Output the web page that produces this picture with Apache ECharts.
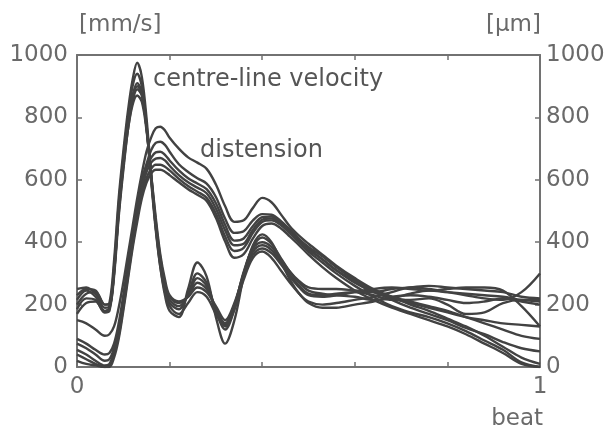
<!DOCTYPE html>
<html>
<head>
<meta charset="utf-8">
<script src="https://cdn.jsdelivr.net/npm/echarts@6/dist/echarts.min.js"></script>
<style>
  html, body { margin: 0; padding: 0; background: #fff; }
  #chart { width: 608px; height: 430px; }
</style>
</head>
<body>
<div id="chart"></div>
<script>
// Fraction of the cardiac beat at which every trace is sampled
const beat = [0, 0.02, 0.04, 0.06, 0.07, 0.08, 0.09, 0.10, 0.11, 0.12, 0.13, 0.14, 0.15, 0.16, 0.17, 0.18, 0.19, 0.20,
  0.22, 0.24, 0.26, 0.28, 0.30, 0.32, 0.34, 0.36, 0.38, 0.40, 0.42, 0.44, 0.46, 0.48, 0.50,
  0.53, 0.56, 0.60, 0.64, 0.68, 0.72, 0.76, 0.80, 0.84, 0.88, 0.92, 0.96, 1.0];

// Centre-line velocity traces [mm/s]
const velocity1 = [200, 235, 240, 200, 205, 340, 540, 690, 820, 920, 975, 930, 800, 620, 450, 320, 230, 180,
  160, 250, 335, 290, 160, 75, 150, 290, 390, 425, 400, 340, 280, 235, 210,
  200, 205, 215, 225, 240, 255, 250, 240, 230, 220, 215, 240, 300];
const velocity2 = [250, 255, 235, 190, 195, 320, 520, 670, 800, 900, 940, 900, 780, 610, 450, 330, 250, 205,
  185, 235, 300, 270, 180, 120, 185, 300, 385, 415, 395, 350, 305, 275, 255,
  250, 250, 245, 240, 250, 255, 260, 255, 250, 245, 240, 225, 220];
const velocity3 = [215, 245, 225, 180, 190, 300, 500, 650, 780, 870, 910, 880, 770, 610, 460, 340, 260, 215,
  195, 230, 285, 260, 185, 135, 195, 305, 380, 400, 385, 345, 305, 270, 245,
  235, 230, 225, 215, 220, 235, 245, 240, 235, 230, 225, 215, 210];
const velocity4 = [185, 220, 215, 175, 180, 290, 480, 630, 760, 850, 890, 870, 770, 620, 470, 350, 270, 225,
  205, 225, 270, 250, 185, 140, 200, 300, 370, 390, 375, 335, 295, 260, 235,
  230, 235, 240, 230, 215, 215, 220, 200, 170, 175, 205, 215, 215];
const velocity5 = [230, 250, 245, 200, 200, 310, 490, 640, 760, 840, 870, 850, 760, 620, 480, 360, 280, 230,
  210, 225, 255, 240, 195, 150, 205, 295, 360, 380, 365, 330, 290, 255, 230,
  225, 230, 240, 250, 255, 250, 245, 250, 255, 255, 245, 195, 130];
const velocity6 = [170, 205, 210, 175, 185, 300, 500, 650, 780, 865, 900, 875, 770, 600, 440, 320, 240, 195,
  170, 205, 240, 225, 170, 130, 185, 280, 350, 370, 350, 310, 270, 235, 205,
  190, 190, 200, 210, 225, 230, 225, 215, 205, 210, 220, 210, 200];

// Wall distension traces [µm]
const distension1 = [150, 140, 120, 100, 105, 130, 190, 270, 360, 450, 540, 620, 690, 735, 765, 770, 758, 735,
  700, 672, 655, 635, 585, 515, 465, 470, 510, 542, 528, 490, 450, 420, 395,
  360, 325, 285, 250, 225, 200, 180, 155, 130, 100, 65, 30, 10];
const distension2 = [90, 75, 55, 40, 45, 75, 140, 230, 330, 430, 520, 600, 650, 695, 718, 722, 712, 690,
  650, 625, 605, 588, 545, 475, 430, 435, 470, 490, 488, 468, 440, 410, 385,
  355, 320, 280, 245, 215, 190, 170, 150, 125, 105, 80, 60, 50];
const distension3 = [75, 60, 40, 20, 25, 60, 120, 210, 310, 410, 500, 580, 640, 670, 688, 690, 680, 662,
  630, 605, 588, 570, 525, 455, 405, 412, 452, 480, 482, 462, 435, 405, 380,
  345, 310, 270, 240, 220, 205, 190, 175, 160, 150, 140, 135, 130];
const distension4 = [55, 40, 20, 5, 10, 45, 110, 200, 300, 400, 490, 570, 625, 655, 668, 670, 662, 645,
  615, 592, 575, 557, 508, 438, 390, 395, 440, 472, 476, 460, 430, 400, 370,
  335, 300, 260, 225, 195, 175, 160, 140, 115, 85, 55, 15, 0];
const distension5 = [40, 25, 10, 0, 5, 40, 100, 190, 290, 390, 480, 555, 605, 635, 648, 648, 642, 630,
  603, 580, 562, 542, 492, 418, 372, 382, 430, 465, 470, 455, 428, 400, 375,
  345, 310, 275, 245, 225, 210, 195, 180, 160, 140, 120, 100, 90];
const distension6 = [20, 10, 5, 0, 0, 30, 90, 180, 280, 380, 465, 540, 590, 620, 632, 632, 626, 615,
  592, 570, 552, 532, 478, 402, 350, 362, 412, 452, 460, 445, 418, 390, 360,
  320, 285, 245, 215, 190, 170, 150, 130, 105, 75, 45, 10, 0];

const velocityTraces = [velocity1, velocity2, velocity3, velocity4, velocity5, velocity6];
const distensionTraces = [distension1, distension2, distension3, distension4, distension5, distension6];

// Tick values on both vertical axes and the labelled beat positions
const yTicks = [0, 200, 400, 600, 800, 1000];
const beatLabels = [0, 1];

const ink = '#424242';
const axisGrey = '#727272';
const textGrey = '#6a6a6a';
const fontFamily = '"DejaVu Sans", Verdana, sans-serif';

function trace(name, values, yAxisIndex) {
  return {
    name: name,
    type: 'line',
    yAxisIndex: yAxisIndex,
    data: beat.map((t, i) => [t, values[i]]),
    smooth: 0.35,
    showSymbol: false,
    silent: true,
    clip: true,
    lineStyle: { color: ink, width: 2.4 },
    z: 3
  };
}

const series = [];
velocityTraces.forEach((v, i) => series.push(trace('velocity ' + (i + 1), v, 0)));
distensionTraces.forEach((d, i) => series.push(trace('distension ' + (i + 1), d, 1)));

// Each axis gets its own style objects so the frame is drawn on all four sides
const boxAxisLine = () => ({ show: true, onZero: false, lineStyle: { color: axisGrey, width: 2 } });
const innerTick = () => ({ show: true, inside: true, length: 5, lineStyle: { color: axisGrey, width: 1.5 } });
const tickFont = () => ({ color: textGrey, fontSize: 23, fontFamily: fontFamily });

const chart = echarts.init(document.getElementById('chart'), null, { renderer: 'canvas' });
chart.setOption({
  animation: false,
  backgroundColor: '#ffffff',
  grid: { left: 77, right: 68, top: 55, bottom: 63, containLabel: false },
  xAxis: [
    {
      type: 'value', min: 0, max: 1, interval: 0.2, position: 'bottom',
      axisLine: boxAxisLine(), axisTick: innerTick(), splitLine: { show: false },
      axisLabel: Object.assign(tickFont(), {
        margin: 9,
        formatter: v => (beatLabels.some(b => Math.abs(b - v) < 1e-9) ? String(Math.round(v)) : '')
      })
    },
    {
      type: 'value', min: 0, max: 1, interval: 0.2, position: 'top',
      axisLine: boxAxisLine(), axisTick: innerTick(), splitLine: { show: false },
      axisLabel: { show: false }
    }
  ],
  yAxis: [
    {
      type: 'value', min: yTicks[0], max: yTicks[yTicks.length - 1], interval: 200, position: 'left',
      axisLine: boxAxisLine(), axisTick: innerTick(), splitLine: { show: false },
      axisLabel: Object.assign(tickFont(), { margin: 9, formatter: v => String(v) })
    },
    {
      type: 'value', min: yTicks[0], max: yTicks[yTicks.length - 1], interval: 200, position: 'right',
      axisLine: boxAxisLine(), axisTick: innerTick(), splitLine: { show: false },
      axisLabel: Object.assign(tickFont(), { margin: 6, formatter: v => String(v) })
    }
  ],
  graphic: [
    { type: 'text', x: 79, y: 25, style: { text: '[mm/s]', fill: textGrey, font: '23px ' + fontFamily, align: 'left', verticalAlign: 'middle' } },
    { type: 'text', x: 541, y: 25, style: { text: '[µm]', fill: textGrey, font: '23px ' + fontFamily, align: 'right', verticalAlign: 'middle' } },
    { type: 'text', x: 543, y: 419, style: { text: 'beat', fill: textGrey, font: '23px ' + fontFamily, align: 'right', verticalAlign: 'middle' } },
    { type: 'text', x: 153, y: 80, z: 10, style: { text: 'centre-line velocity', fill: '#555', font: '24px ' + fontFamily, align: 'left', verticalAlign: 'middle' } },
    { type: 'text', x: 200, y: 151, z: 10, style: { text: 'distension', fill: '#555', font: '24px ' + fontFamily, align: 'left', verticalAlign: 'middle' } }
  ],
  series: series
});
</script>
</body>
</html>
